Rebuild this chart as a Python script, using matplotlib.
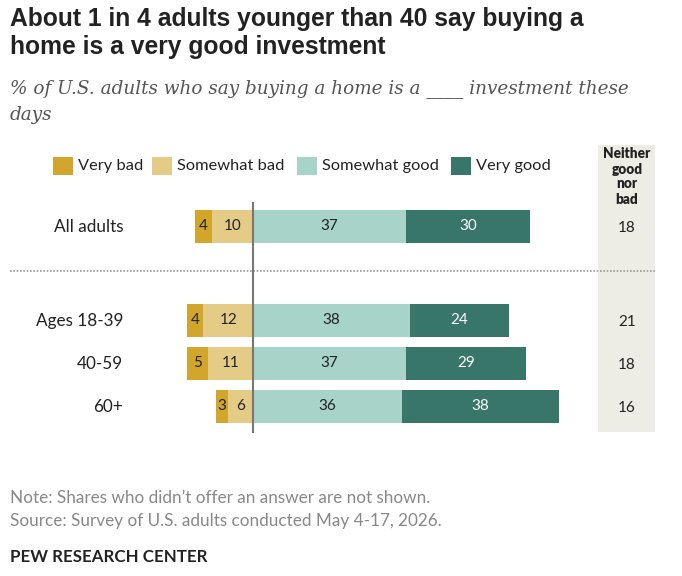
import matplotlib
matplotlib.use('Agg')
from matplotlib import pyplot as plt
from matplotlib.patches import Rectangle

GROUPS = ['All adults', 'Ages 18-39', '40-59', '60+']
VERY_BAD = [4, 4, 5, 3]
SOMEWHAT_BAD = [10, 12, 11, 6]
SOMEWHAT_GOOD = [37, 38, 37, 36]
VERY_GOOD = [30, 24, 29, 38]
NEITHER = [18, 21, 18, 16]

LEGEND = ['Very bad', 'Somewhat bad', 'Somewhat good', 'Very good']
COLORS = ['#D2A52C', '#E4CC87', '#A7D3C8', '#377668']

W, H = 682, 576
PX = 4.13     # pixels per percentage point
ZERO = 253    # pixel x of the zero line

FONT = ['Lato', 'DejaVu Sans']
TITLE_FONT = ['Liberation Sans', 'DejaVu Sans']


def px(x):
    # pixel x -> data x
    return (x - ZERO) / PX


def main():

    fig = plt.figure(figsize=(W / 100, H / 100), dpi=100)
    ax = fig.add_axes([0, 0, 1, 1])
    ax.set_xlim(px(0), px(W))
    ax.set_ylim(H, 0)
    ax.axis('off')

    rows_y = [226, 320, 363, 406]
    bar_h = 33

    # title / subtitle
    ax.text(px(10), 26, 'About 1 in 4 adults younger than 40 say buying a',
            fontsize=17.7, fontweight='bold', family=TITLE_FONT,
            color='#222222', va='baseline')
    ax.text(px(10), 54, 'home is a very good investment',
            fontsize=17.7, fontweight='bold', family=TITLE_FONT,
            color='#222222', va='baseline')
    ax.text(px(10), 93, '% of U.S. adults who say buying a home is a ____ investment these',
            fontsize=13.2, style='italic', family='DejaVu Serif',
            color='#555555', va='baseline')
    ax.text(px(10), 120, 'days', fontsize=13.2, style='italic',
            family='DejaVu Serif', color='#555555', va='baseline')

    # legend
    leg_x = [53, 152, 297, 451]
    for lx, lab, col in zip(leg_x, LEGEND, COLORS):
        ax.add_patch(Rectangle((px(lx), 157), 20 / PX, 18, color=col, lw=0))
        ax.text(px(lx + 25), 166, lab, fontsize=11.8, family=FONT,
                color='#222222', va='center')

    # neither column
    ax.add_patch(Rectangle((px(598), 145), 57 / PX, 287, color='#EEEDE5',
                           lw=0, zorder=0))
    for i, w in enumerate(['Neither', 'good', 'nor', 'bad']):
        ax.text(px(627), 154 + i * 15, w, fontsize=9.8, fontweight='heavy',
                family=FONT, color='#222222', ha='center', va='center')

    # divider
    ax.plot([px(10), px(655)], [271, 271], color='#999999', lw=1.2,
            linestyle=(0, (1, 1)))

    for i, g in enumerate(GROUPS):
        y = rows_y[i]
        vb, sb = VERY_BAD[i], SOMEWHAT_BAD[i]
        sg, vg = SOMEWHAT_GOOD[i], VERY_GOOD[i]
        ax.barh(y, -sb, left=0, height=bar_h, color=COLORS[1], lw=0)
        ax.barh(y, -vb, left=-sb, height=bar_h, color=COLORS[0], lw=0)
        ax.barh(y, sg, left=0, height=bar_h, color=COLORS[2], lw=0)
        ax.barh(y, vg, left=sg, height=bar_h, color=COLORS[3], lw=0)

        ax.text(-sb / 2, y, str(sb), ha='center', va='center', fontsize=11,
                family=FONT, color='#222222')
        ax.text(-sb - vb / 2, y, str(vb), ha='center', va='center',
                fontsize=11, family=FONT, color='#222222')
        ax.text(sg / 2, y, str(sg), ha='center', va='center', fontsize=11,
                family=FONT, color='#222222')
        ax.text(sg + vg / 2, y, str(vg), ha='center', va='center',
                fontsize=11, family=FONT, color='white')
        ax.text(px(627), y + 2, str(NEITHER[i]), ha='center', va='center',
                fontsize=11, family=FONT, color='#222222')
        ax.text(px(123), y + 1, g, ha='right', va='center', fontsize=12.3,
                family=FONT, color='#222222')

    # zero line
    ax.plot([0, 0], [203, 432], color='#777777', lw=1.5)

    # footer
    ax.text(px(10), 503, 'Note: Shares who didn\u2019t offer an answer are not shown.',
            fontsize=12.3, family=FONT, color='#888888', va='baseline')
    ax.text(px(10), 526, 'Source: Survey of U.S. adults conducted May 4-17, 2026.',
            fontsize=12.3, family=FONT, color='#888888', va='baseline')
    ax.text(px(10), 562, 'PEW RESEARCH CENTER', fontsize=12.2,
            fontweight='bold', family=FONT, color='#222222', va='baseline')

    fig.savefig('out.png', dpi=100)


if __name__ == '__main__':

    main()
